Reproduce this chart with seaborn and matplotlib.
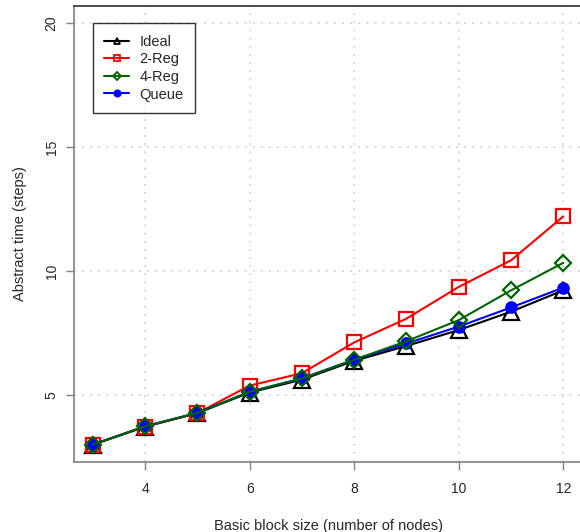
import matplotlib
matplotlib.use('Agg')
import matplotlib.pyplot as plt
from matplotlib.lines import Line2D
import seaborn as sns
import pandas as pd


block_sizes = [3, 4, 5, 6, 7, 8, 9, 10, 11, 12]
ideal = [3.0, 3.72, 4.27, 5.10, 5.62, 6.38, 6.98, 7.62, 8.36, 9.22]
reg2 = [3.0, 3.73, 4.27, 5.38, 5.88, 7.12, 8.08, 9.36, 10.43, 12.20]
reg4 = [3.0, 3.74, 4.28, 5.13, 5.67, 6.42, 7.17, 8.02, 9.22, 10.33]
queue = [3.0, 3.74, 4.28, 5.13, 5.67, 6.43, 7.08, 7.76, 8.53, 9.33]

x_ticks = [4, 6, 8, 10, 12]
y_ticks = [5, 10, 15, 20]

# (label, values, colour, marker, marker size, face)
SERIES = [
    ('Ideal', ideal, 'black', '^', 11, 'none'),
    ('2-Reg', reg2, '#FF0000', 's', 10, 'none'),
    ('Queue', queue, '#0000FF', 'o', 7.5, '#0000FF'),
    ('4-Reg', reg4, '#006400', 'D', 8.5, 'none'),
]
LEGEND_ORDER = ['Ideal', '2-Reg', '4-Reg', 'Queue']
LEGEND_MS = {'Ideal': 5, '2-Reg': 4.5, '4-Reg': 4, 'Queue': 4.5}

sns.set_theme(style='white')
plt.rcParams['font.family'] = ['Liberation Sans', 'DejaVu Sans']

fig = plt.figure(figsize=(5.8, 5.32), dpi=100)
ax = fig.add_axes([0.1276, 0.1325, 0.876, 0.856])

for label, values, color, marker, ms, face in SERIES:
    df = pd.DataFrame({'size': block_sizes, 'time': values})
    sns.lineplot(
        data=df, x='size', y='time', ax=ax,
        color=color, linewidth=1.5,
        marker=marker, markersize=ms,
        markerfacecolor=face, markeredgecolor=color, markeredgewidth=1.6,
        legend=False
    )

ax.set_xlim(2.64, 12.36)
ax.set_ylim(2.32, 20.68)
ax.set_xticks(x_ticks)
ax.set_yticks(y_ticks)
ax.set_xticklabels([str(t) for t in x_ticks], fontsize=10)
ax.set_yticklabels([str(t) for t in y_ticks], fontsize=10, rotation=90, va='center')
ax.grid(True, color='#D3D3D3', linestyle=(0, (1, 3.5)), linewidth=1.3)
ax.tick_params(axis='both', which='both', direction='out', length=6, width=1,
               color='#808080', bottom=True, left=True)
ax.tick_params(axis='x', pad=9)
ax.tick_params(axis='y', pad=5)

for side in ['left', 'bottom']:
    ax.spines[side].set_color('#808080')
    ax.spines[side].set_linewidth(1.2)
ax.spines['top'].set_color('#303030')
ax.spines['top'].set_linewidth(1.2)
ax.spines['right'].set_visible(False)

ax.set_xlabel('Basic block size (number of nodes)', fontsize=10.5, labelpad=16)
ax.set_ylabel('Abstract time (steps)', fontsize=10.5, labelpad=13)

lookup = {s[0]: s for s in SERIES}
handles = []
for name in LEGEND_ORDER:
    _, _, color, marker, _, face = lookup[name]
    handles.append(Line2D([0], [0], color=color, linewidth=1.5, marker=marker,
                          markersize=LEGEND_MS[name], markerfacecolor=face,
                          markeredgecolor=color, markeredgewidth=1.3))
leg = ax.legend(handles, LEGEND_ORDER, loc='upper left', bbox_to_anchor=(0.037, 0.963),
                fontsize=10.5, frameon=True, fancybox=False, handlelength=1.7,
                handletextpad=0.7, labelspacing=0.25, borderpad=0.8, borderaxespad=0)
leg.get_frame().set_edgecolor('black')
leg.get_frame().set_linewidth(1.0)

fig.savefig('out.png', dpi=100)
